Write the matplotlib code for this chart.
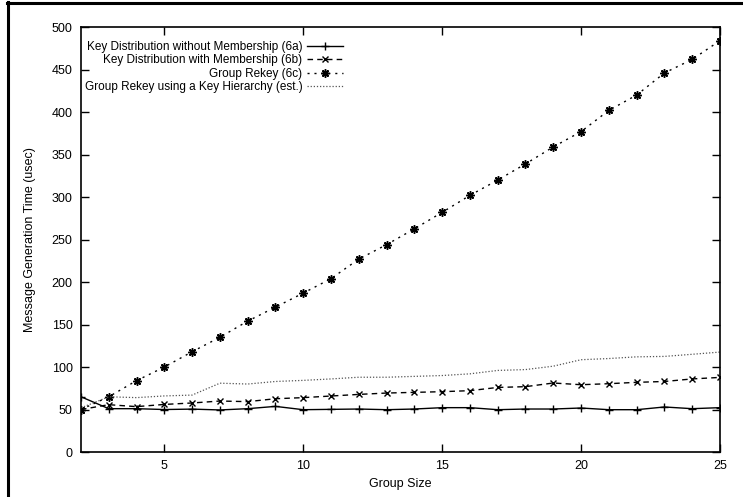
import matplotlib
matplotlib.use("Agg")
import matplotlib.pyplot as plt
from matplotlib.lines import Line2D

plt.rcParams['font.family'] = ['Liberation Sans', 'DejaVu Sans']

group_size = list(range(2, 26))
key_dist_no_member = [65, 51, 51, 50, 50.5, 49.5, 51, 53.7, 49.8, 50.2, 50.6, 49.8, 50.6,
                      52.2, 52.2, 49.8, 50.6, 50.6, 51.8, 49.8, 49.8, 53, 51, 52.2]
key_dist_member = [50, 55.7, 53.4, 56, 57.7, 60, 59.3, 62.7, 64, 65.9, 67.8, 69.4, 70.2,
                   71, 72.2, 76, 76.9, 81.2, 79.2, 80.4, 82, 83, 86, 87.8]
group_rekey = [50, 65, 84, 100, 118, 135, 154, 170.5, 187, 204, 227, 244, 262.6,
               282, 302, 320, 339, 359, 377, 402, 420, 446, 462, 484]
group_rekey_hier = [52, 65, 64, 66, 67, 81, 80, 83, 84.3, 86, 88, 88, 89,
                    90, 92, 96, 97, 101, 108.6, 110, 112, 112.5, 115, 117.6]

labels = ["Key Distribution without Membership (6a)",
          "Key Distribution with Membership (6b)",
          "Group Rekey (6c)",
          "Group Rekey using a Key Hierarchy (est.)"]
x_ticks = [5, 10, 15, 20, 25]
y_ticks = list(range(0, 501, 50))

fig = plt.figure(figsize=(7.43, 4.97), dpi=100)
ax = fig.add_axes([0.109, 0.0905, 0.86, 0.855])

ax.plot(group_size, key_dist_no_member, color='black', lw=1.0, marker='+',
        markersize=6, markeredgewidth=1.0, label=labels[0])
ax.plot(group_size, key_dist_member, color='black', lw=1.0, ls=(0, (4, 3)), marker='x',
        markersize=5, markeredgewidth=1.0, label=labels[1])
ax.plot(group_size, group_rekey, color='black', lw=1.0, ls=(0, (1.5, 3.5)), marker=(8, 2, 0),
        markersize=6, markeredgewidth=1.1, label=labels[2])
ax.plot(group_size, group_rekey_hier, color='#555555', lw=0.9, ls=(0, (1, 1.5)),
        label=labels[3])

ax.set_xlim(2, 25)
ax.set_ylim(0, 500)
ax.set_xticks(x_ticks)
ax.set_yticks(y_ticks)
ax.tick_params(direction='in', top=True, right=True, length=6, width=1.0,
               labelsize=9, colors='black', pad=6)
for s in ax.spines.values():
    s.set_linewidth(1.2)

ax.set_xlabel("Group Size", fontsize=9, labelpad=4)
ax.set_ylabel("Message Generation Time (usec)", fontsize=9, labelpad=11)

leg = ax.legend(loc='upper left', bbox_to_anchor=(-0.007, 0.987), markerfirst=False,
                frameon=False, fontsize=8.5, handlelength=3.0, labelspacing=0.12,
                handletextpad=0.4, borderaxespad=0.3)

# outer frame (top and left edges visible)
fig.add_artist(Line2D([0.0105, 0.0105], [0.0, 0.995], transform=fig.transFigure,
                      color='black', lw=2.2))
fig.add_artist(Line2D([0.0093, 1.0], [0.9935, 0.9935], transform=fig.transFigure,
                      color='black', lw=2.2))

fig.savefig("out.png", dpi=100)
